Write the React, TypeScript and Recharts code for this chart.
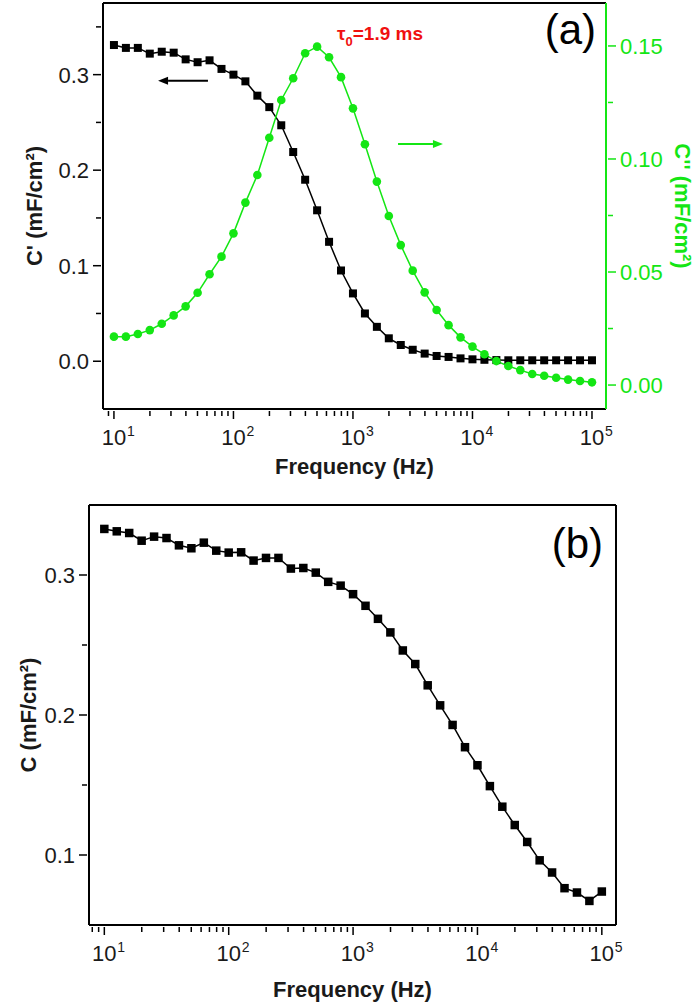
import { LineChart, Line, XAxis, YAxis, ReferenceLine } from 'recharts';

// frequency points (Hz), 10 per decade
const freq = [
  10, 12.59, 15.85, 19.95, 25.12, 31.62, 39.81, 50.12, 63.1, 79.43,
  100, 125.9, 158.5, 199.5, 251.2, 316.2, 398.1, 501.2, 631, 794.3,
  1000, 1259, 1585, 1995, 2512, 3162, 3981, 5012, 6310, 7943,
  10000, 12589, 15849, 19953, 25119, 31623, 39811, 50119, 63096, 79433,
  100000,
];

// panel (a): C' (left axis) and C'' (right axis), mF/cm2
const cReal = [
  0.331, 0.328, 0.328, 0.322, 0.324, 0.323, 0.316, 0.313, 0.315, 0.306,
  0.3, 0.293, 0.278, 0.266, 0.247, 0.219, 0.19, 0.158, 0.125, 0.095,
  0.071, 0.05, 0.036, 0.024, 0.017, 0.012, 0.008, 0.0055, 0.0045, 0.003,
  0.002, 0.0015, 0.0012, 0.001, 0.001, 0.001, 0.001, 0.001, 0.001, 0.001,
  0.001,
];
const cImag = [
  0.0214, 0.0214, 0.0226, 0.0243, 0.0271, 0.0308, 0.0348, 0.0408, 0.049, 0.0568,
  0.0671, 0.0807, 0.0929, 0.1094, 0.1261, 0.1357, 0.1468, 0.1497, 0.145, 0.1362,
  0.1224, 0.1065, 0.09, 0.0748, 0.0619, 0.0506, 0.041, 0.0332, 0.0265, 0.0211,
  0.017, 0.0136, 0.0106, 0.0084, 0.0066, 0.0049, 0.0041, 0.0032, 0.0024, 0.0018,
  0.0012,
];

// panel (b): C, mF/cm2
const cTotal = [
  0.3329, 0.3312, 0.33, 0.3245, 0.3274, 0.3264, 0.3212, 0.3191, 0.3231, 0.3174,
  0.316, 0.3162, 0.3103, 0.3122, 0.3122, 0.3046, 0.305, 0.3017, 0.2951, 0.2924,
  0.2863, 0.278, 0.2687, 0.259, 0.2461, 0.2364, 0.2212, 0.2069, 0.1929, 0.177,
  0.1641, 0.1492, 0.1345, 0.1214, 0.1093, 0.0962, 0.0875, 0.0763, 0.0732, 0.0672,
  0.0739,
];

// axis ticks
const xTicksA = [
  9, 10, 20, 30, 40, 50, 60, 70, 80, 90, 100, 200, 300, 400, 500, 600, 700, 800, 900,
  1000, 2000, 3000, 4000, 5000, 6000, 7000, 8000, 9000, 10000, 20000, 30000, 40000,
  50000, 60000, 70000, 80000, 90000, 100000,
];
const xTicksB = [8, ...xTicksA];
const leftTicksA = [0, 0.05, 0.1, 0.15, 0.2, 0.25, 0.3, 0.35];
const leftMajorsA = [0, 0.1, 0.2, 0.3];
const rightTicksA = [0, 0.025, 0.05, 0.075, 0.1, 0.125, 0.15];
const rightMajorsA = [0, 0.05, 0.1, 0.15];
const leftTicksB = [0.1, 0.15, 0.2, 0.25, 0.3];
const leftMajorsB = [0.1, 0.2, 0.3];

const GREEN = '#14e614';
const INK = '#1a1a1a';

const dataA = freq.map((f, i) => ({ f, cp: cReal[i], cpp: cImag[i] }));
const dataB = freq.map((f, i) => ({ f, c: cTotal[i] }));

const LogTick = (props: any) => {
  const { x, y, payload } = props;
  const v = payload.value;
  const exp = Math.round(Math.log10(v));
  const major = Math.abs(Math.log10(v) - exp) < 1e-6;
  return (
    <g>
      <line x1={x} y1={y} x2={x} y2={y + (major ? 8 : 5)} stroke="#000" strokeWidth={1.5} />
      {major && (
        <>
          <text x={x} y={y + 34} textAnchor="middle" fontSize={22} fill={INK}>10</text>
          <text x={x + 13} y={y + 25} fontSize={14} fill={INK}>{exp}</text>
        </>
      )}
    </g>
  );
};

const makeYTick = (side: 'left' | 'right', majors: number[], digits: number, color: string) =>
  (props: any) => {
    const { x, y, payload } = props;
    const v = payload.value;
    const major = majors.some((m) => Math.abs(m - v) < 1e-9);
    const dir = side === 'left' ? -1 : 1;
    return (
      <g>
        <line x1={x} y1={y} x2={x + dir * (major ? 8 : 5)} y2={y} stroke={color} strokeWidth={1.5} />
        {major && (
          <text x={x + dir * 12} y={y + 8} textAnchor={side === 'left' ? 'end' : 'start'} fontSize={22} fill={color === '#000' ? INK : color}>
            {v.toFixed(digits)}
          </text>
        )}
      </g>
    );
  };

const Square = (size: number) => (p: any) => (
  <rect key={p.index} x={p.cx - size / 2} y={p.cy - size / 2} width={size} height={size} fill="#000" />
);

const Arrow = (color: string) => (p: any) => {
  const { x1, y1, x2, y2 } = p;
  const dir = x2 > x1 ? 1 : -1;
  const hx = x2 - dir * 10;
  return (
    <g>
      <line x1={x1} y1={y1} x2={hx} y2={y2} stroke={color} strokeWidth={2} />
      <polygon points={`${x2},${y2} ${hx},${y2 - 4} ${hx},${y2 + 4}`} fill={color} />
    </g>
  );
};

const App = () => (
  <div style={{ position: 'absolute', left: 0, top: 0, width: 700, height: 1004, fontFamily: '"Liberation Sans", Arial, sans-serif', background: '#fff' }}>
    <div style={{ position: 'absolute', left: 0, top: 0 }}>
      <LineChart width={700} height={500} data={dataA} margin={{ top: 3, right: 0, bottom: 0, left: 0 }}>
        <XAxis
          dataKey="f"
          type="number"
          scale="log"
          domain={[8.1, 131000]}
          allowDataOverflow
          ticks={xTicksA}
          interval={0}
          height={91}
          tickSize={0}
          tickLine={false}
          tick={LogTick}
          axisLine={{ stroke: '#000', strokeWidth: 2 }}
        />
        <YAxis
          yAxisId="left"
          type="number"
          domain={[-0.05, 0.375]}
          allowDataOverflow
          ticks={leftTicksA}
          interval={0}
          width={103}
          tickSize={0}
          tickLine={false}
          tick={makeYTick('left', leftMajorsA, 1, '#000')}
          axisLine={{ stroke: '#000', strokeWidth: 2 }}
        />
        <YAxis
          yAxisId="right"
          orientation="right"
          type="number"
          domain={[-0.0106, 0.169]}
          allowDataOverflow
          ticks={rightTicksA}
          interval={0}
          width={94}
          tickSize={0}
          tickLine={false}
          tick={makeYTick('right', rightMajorsA, 2, GREEN)}
          axisLine={{ stroke: GREEN, strokeWidth: 2 }}
        />
        <ReferenceLine yAxisId="left" y={0.375} stroke="#000" strokeWidth={2} />
        <ReferenceLine
          yAxisId="left"
          segment={[{ x: 61.2, y: 0.2936 }, { x: 23.4, y: 0.2936 }]}
          shape={Arrow('#000')}
        />
        <ReferenceLine
          yAxisId="right"
          segment={[{ x: 2383, y: 0.1066 }, { x: 5663, y: 0.1066 }]}
          shape={Arrow(GREEN)}
        />
        <Line
          yAxisId="left"
          dataKey="cp"
          type="linear"
          stroke="#000"
          strokeWidth={1.5}
          dot={Square(8)}
          isAnimationActive={false}
        />
        <Line
          yAxisId="right"
          dataKey="cpp"
          type="linear"
          stroke={GREEN}
          strokeWidth={1.5}
          dot={{ r: 4.3, fill: GREEN, stroke: 'none' }}
          isAnimationActive={false}
        />
        <text x={596} y={44} textAnchor="end" fontSize={42} fill="#000">(a)</text>
        <text x={337} y={40} fontSize={19} fontWeight="bold" fill="#f01010">
          τ<tspan fontSize={13} dy={6}>0</tspan><tspan dy={-6}>=1.9 ms</tspan>
        </text>
        <text x={42} y={206} transform="rotate(-90 42 206)" textAnchor="middle" fontSize={22} fontWeight="bold" fill={INK}>
          C' (mF/cm²)
        </text>
        <text x={675} y={206} transform="rotate(90 675 206)" textAnchor="middle" fontSize={22} fontWeight="bold" fill={GREEN}>
          C'' (mF/cm²)
        </text>
        <text x={354.5} y={474} textAnchor="middle" fontSize={22} fontWeight="bold" fill={INK}>
          Frequency (Hz)
        </text>
      </LineChart>
    </div>
    <div style={{ position: 'absolute', left: 0, top: 500 }}>
      <LineChart width={700} height={504} data={dataB} margin={{ top: 5, right: 84, bottom: 0, left: 0 }}>
        <XAxis
          dataKey="f"
          type="number"
          scale="log"
          domain={[7.53, 130000]}
          allowDataOverflow
          ticks={xTicksB}
          interval={0}
          height={79}
          tickSize={0}
          tickLine={false}
          tick={LogTick}
          axisLine={{ stroke: '#000', strokeWidth: 2 }}
        />
        <YAxis
          type="number"
          domain={[0.05, 0.35]}
          allowDataOverflow
          ticks={leftTicksB}
          interval={0}
          width={89}
          tickSize={0}
          tickLine={false}
          tick={makeYTick('left', leftMajorsB, 1, '#000')}
          axisLine={{ stroke: '#000', strokeWidth: 2 }}
        />
        <ReferenceLine y={0.35} stroke="#000" strokeWidth={2} />
        <ReferenceLine x={130000} stroke="#000" strokeWidth={2} />
        <Line
          dataKey="c"
          type="linear"
          stroke="#000"
          strokeWidth={1.5}
          dot={Square(8.5)}
          isAnimationActive={false}
        />
        <text x={603} y={58} textAnchor="end" fontSize={42} fill="#000">(b)</text>
        <text x={36} y={215} transform="rotate(-90 36 215)" textAnchor="middle" fontSize={22} fontWeight="bold" fill={INK}>
          C (mF/cm²)
        </text>
        <text x={352.5} y={497} textAnchor="middle" fontSize={22} fontWeight="bold" fill={INK}>
          Frequency (Hz)
        </text>
      </LineChart>
    </div>
  </div>
);

export default App;
